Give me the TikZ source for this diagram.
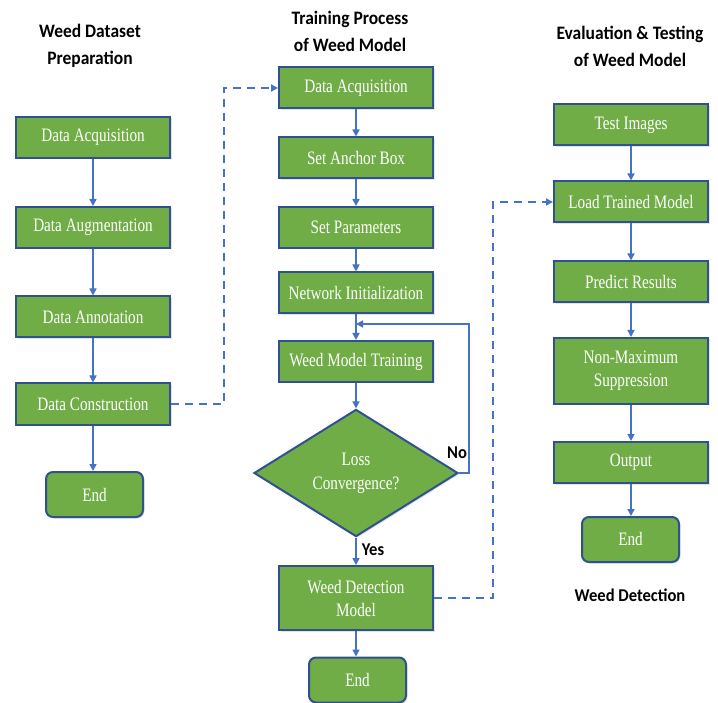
\documentclass[tikz,border=0pt]{standalone}
\usepackage{fontspec}
\setmainfont{Liberation Serif}
\newfontfamily\boxfont[FakeStretch=0.8]{Liberation Serif}
\newfontfamily\headfont[FakeStretch=0.92]{Carlito}
\usetikzlibrary{shapes.geometric,shadows,arrows.meta}
\definecolor{leaf}{HTML}{70AD47}
\definecolor{rim}{HTML}{2F528F}
\definecolor{flow}{HTML}{4472C4}
\tikzset{
  stepbox/.style={draw=rim,line width=2pt,fill=leaf,text=white,
    minimum width=154pt,minimum height=41pt,inner sep=2pt,align=center,
    font=\boxfont\fontsize{19}{23}\selectfont,
    drop shadow={opacity=0.22,shadow xshift=1.5pt,shadow yshift=-1.5pt}},
  endbox/.style={stepbox,rounded corners=7pt,minimum width=97pt,minimum height=45pt},
  decision/.style={diamond,draw=rim,line width=2pt,fill=leaf,text=white,
    minimum width=204pt,minimum height=126pt,inner sep=0pt,align=center,
    font=\boxfont\fontsize{19}{24}\selectfont,
    drop shadow={opacity=0.22,shadow xshift=1.5pt,shadow yshift=-1.5pt}},
  heading/.style={font=\headfont\bfseries\fontsize{19}{27}\selectfont,align=center,text=black},
  tag/.style={font=\headfont\bfseries\fontsize{18}{22}\selectfont,text=black},
  link/.style={draw=flow,line width=1.6pt,-{Triangle[length=7pt,width=7pt]}},
  dashlink/.style={draw=flow,line width=2pt,dash pattern=on 8pt off 6pt,-{Triangle[length=7pt,width=7pt]}}
}
\begin{document}
\begin{tikzpicture}[x=1pt,y=-1pt]
\useasboundingbox (0,0) rectangle (718,703);

% column headings
\node[heading] (hleft) at (90,46) {Weed Dataset\\Preparation};
\node[heading] (hmid) at (350,31) {Training Process\\of Weed Model};
\node[heading] (hright) at (630,46) {Evaluation \& Testing\\of Weed Model};
\node[tag] (hdet) at (630,595) {Weed Detection};

% dataset preparation
\node[stepbox] (a1) at (93,137.5) {Data Acquisition};
\node[stepbox] (a2) at (93,227.5) {Data Augmentation};
\node[stepbox] (a3) at (93,317) {Data Annotation};
\node[stepbox] (a4) at (93,404) {Data Construction};
\node[endbox] (a5) at (94.5,494.5) {End};

% training process
\node[stepbox] (b1) at (356,88) {Data Acquisition};
\node[stepbox] (b2) at (356,158) {Set Anchor Box};
\node[stepbox] (b3) at (356,227.5) {Set Parameters};
\node[stepbox] (b4) at (356,293) {Network Initialization};
\node[stepbox] (b5) at (356,361.5) {Weed Model Training};
\node[decision] (b6) at (356,473) {Loss\\Convergence?};
\node[stepbox,minimum height=64pt] (b7) at (356,598) {Weed Detection\\Model};
\node[endbox] (b8) at (357.5,680) {End};

% evaluation and testing
\node[stepbox] (c1) at (631,125) {Test Images};
\node[stepbox] (c2) at (631,202) {Load Trained Model};
\node[stepbox] (c3) at (631,282) {Predict Results};
\node[stepbox,minimum height=66pt] (c4) at (631,371) {Non-Maximum\\Suppression};
\node[stepbox] (c5) at (631,462.5) {Output};
\node[endbox] (c6) at (630.5,539.5) {End};

% solid flow
\draw[link] (a1) -- (a2);
\draw[link] (a2) -- (a3);
\draw[link] (a3) -- (a4);
\draw[link] (a4.south) -- (a4.south |- a5.north);
\draw[link] (b1) -- (b2);
\draw[link] (b2) -- (b3);
\draw[link] (b3) -- (b4);
\draw[link] (b4) -- (b5);
\draw[link] (b5) -- (b6);
\draw[link] (b6) -- (b7);
\draw[link] (b7.south) -- (b7.south |- b8.north);
\draw[link] (c1) -- (c2);
\draw[link] (c2) -- (c3);
\draw[link] (c3) -- (c4);
\draw[link] (c4) -- (c5);
\draw[link] (c5.south) -- (c5.south |- c6.north);

% retraining loop
\coordinate (loopA) at (469,473);
\coordinate (loopB) at (469,324);
\coordinate (loopC) at (356,324);
\draw[link] (b6.east) -- (loopA) -- (loopB) -- (loopC);
\node[tag] (no) at (457,453) {No};
\node[tag] (yes) at (373,550) {Yes};

% hand-over links between stages
\coordinate (hopA) at (224,404);
\coordinate (hopB) at (224,88);
\draw[dashlink] (a4.east) -- (hopA) -- (hopB) -- (b1.west);
\coordinate (hopC) at (493,598);
\coordinate (hopD) at (493,202);
\draw[dashlink] (b7.east) -- (hopC) -- (hopD) -- (c2.west);
\end{tikzpicture}
\end{document}
